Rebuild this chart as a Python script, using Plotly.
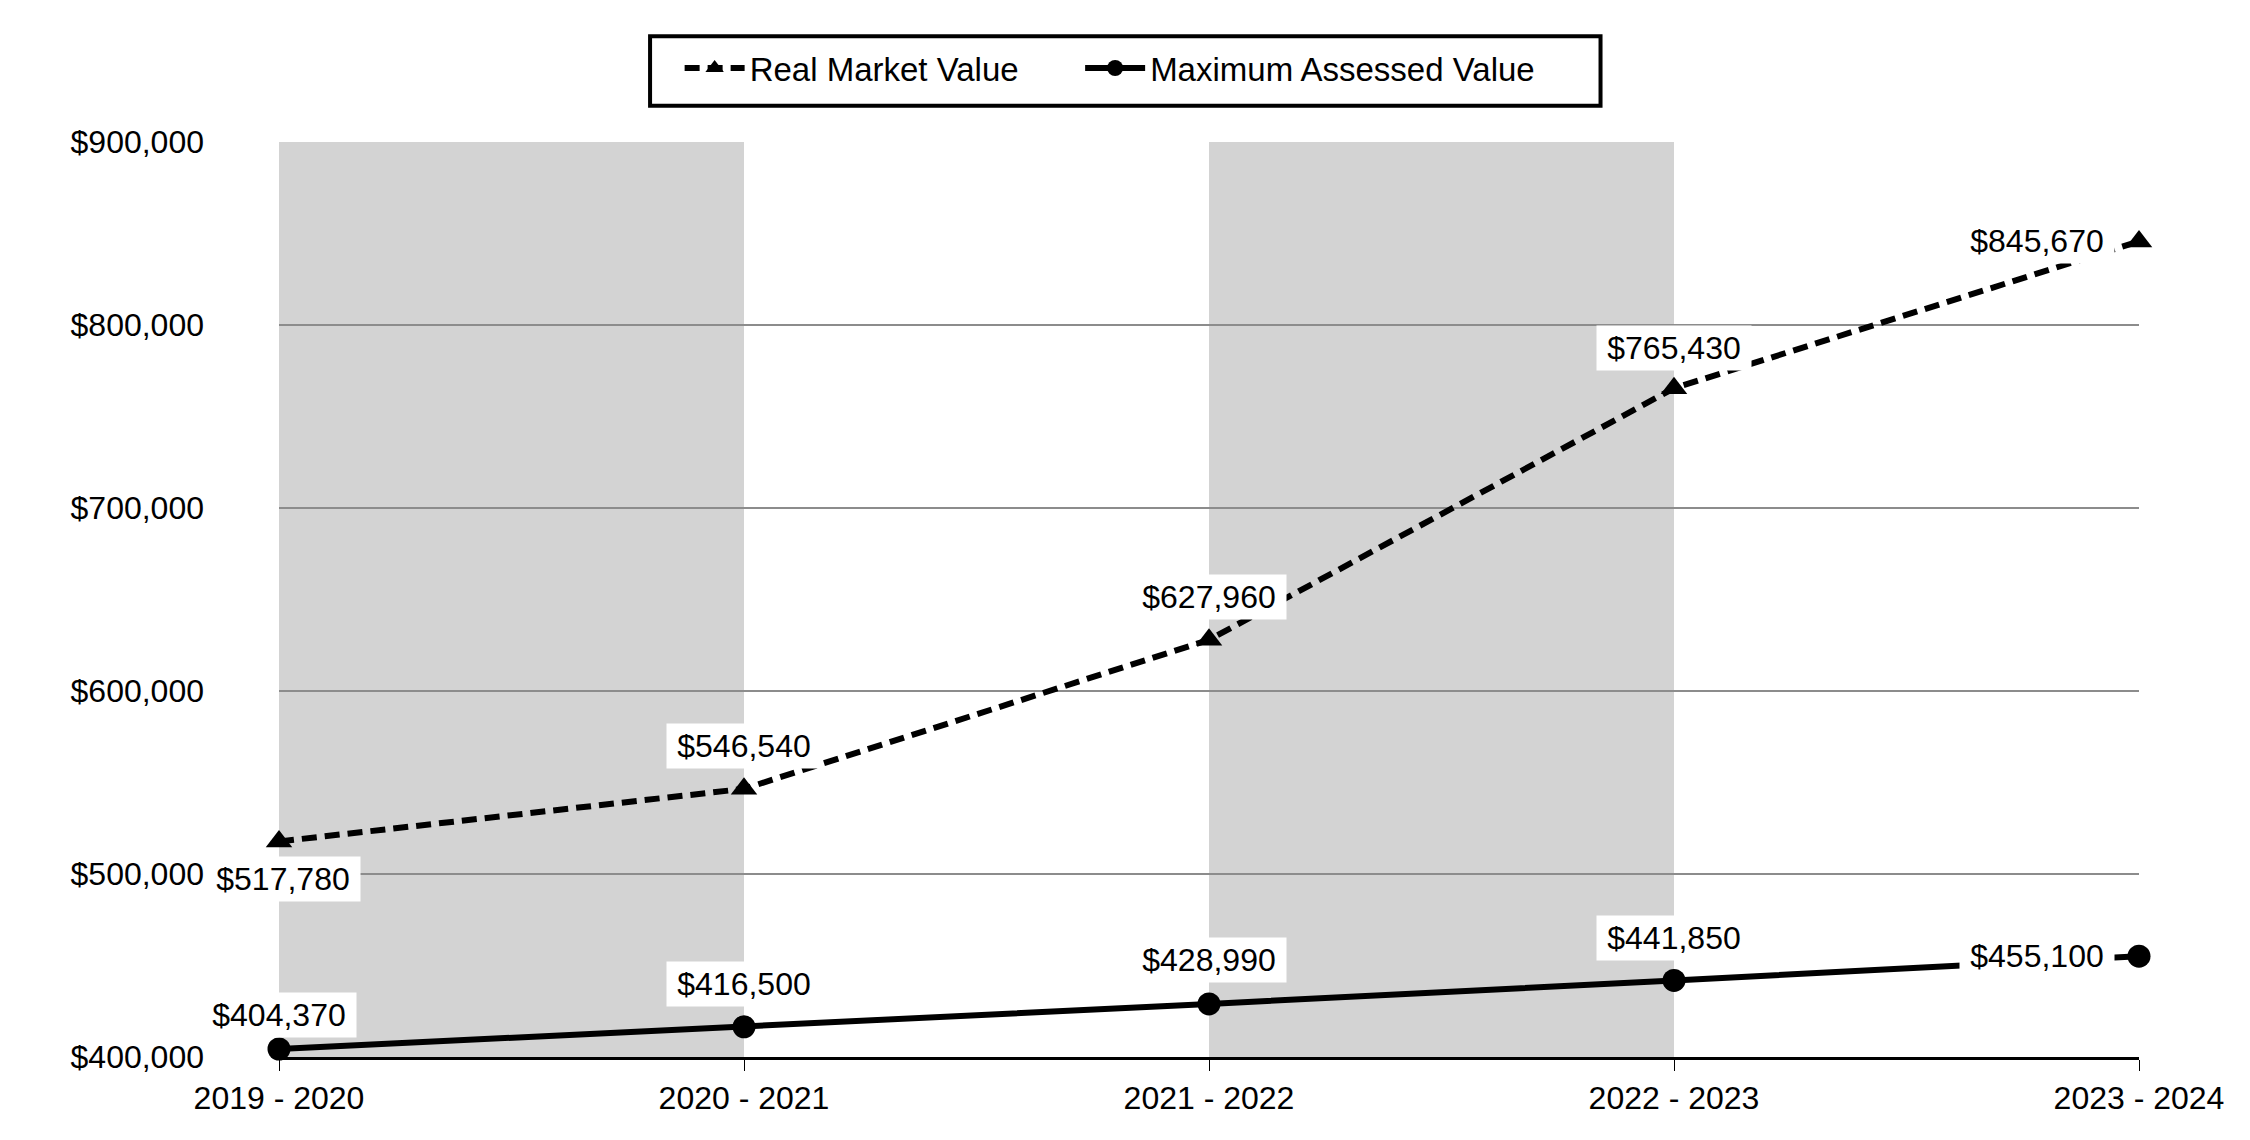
import plotly.graph_objects as go

categories = ["2019 - 2020", "2020 - 2021", "2021 - 2022", "2022 - 2023", "2023 - 2024"]
real_market_value = [517780, 546540, 627960, 765430, 845670]
max_assessed_value = [404370, 416500, 428990, 441850, 455100]
y_ticks = [400000, 500000, 600000, 700000, 800000, 900000]

FONT = "Arial, Liberation Sans, sans-serif"
xs = list(range(len(categories)))

fig = go.Figure()
fig.add_trace(go.Scatter(
    x=xs, y=real_market_value, name="Real Market Value", mode="lines+markers",
    line=dict(color="black", width=6, dash="15px,8px"),
    marker=dict(symbol="triangle-up", size=23, color="black"),
    cliponaxis=False, legend="legend",
))
fig.add_trace(go.Scatter(
    x=xs, y=max_assessed_value, name="Maximum Assessed Value", mode="lines+markers",
    line=dict(color="black", width=6),
    marker=dict(symbol="circle", size=23, color="black"),
    cliponaxis=False, legend="legend2",
))

# shaded alternate bands
for i in range(0, len(categories) - 1, 2):
    fig.add_shape(type="rect", xref="x", yref="paper", x0=xs[i], x1=xs[i + 1], y0=0, y1=1,
                  fillcolor="#d3d3d3", line=dict(width=0), layer="below")

# legend frame
fig.add_shape(type="rect", xref="paper", yref="paper", x0=0.1995, x1=0.7105, y0=1.0395, y1=1.1155,
              line=dict(color="black", width=4), fillcolor="white", layer="above")

# data labels
rmv_offsets = [(4, -38), (0, 43), (0, 43), (0, 40), ("left", 0)]
mav_offsets = [(0, 34), (0, 43), (0, 44), (0, 42), ("left", 0)]

def add_labels(values, offsets):
    for x, v, (dx, dy) in zip(xs, values, offsets):
        common = dict(x=x, y=v, text=f"${v:,}", showarrow=False, yanchor="middle",
                      font=dict(family=FONT, size=32, color="black"),
                      bgcolor="white", borderpad=2, width=150, height=40, align="center")
        if dx == "left":
            fig.add_annotation(xanchor="right", xshift=-24, yshift=0, **common)
        else:
            fig.add_annotation(xanchor="center", xshift=dx, yshift=dy, **common)

add_labels(real_market_value, rmv_offsets)
add_labels(max_assessed_value, mav_offsets)

legend_common = dict(
    orientation="h", xref="container", yref="container", y=0.9473,
    xanchor="left", yanchor="middle",
    borderwidth=0, bgcolor="rgba(0,0,0,0)",
    font=dict(family=FONT, size=33, color="black"),
    itemwidth=60,
)

fig.update_layout(
    width=2250, height=1140,
    margin=dict(l=271, r=119, t=134, b=91),
    paper_bgcolor="white", plot_bgcolor="white",
    font=dict(family=FONT, size=32, color="black"),
    showlegend=True,
    legend=dict(x=0.2985, **legend_common),
    legend2=dict(x=0.4765, **legend_common),
    xaxis=dict(
        range=[0, 4], tickmode="array", tickvals=xs, ticktext=categories,
        showgrid=False, zeroline=False, showline=True, linecolor="black", linewidth=3,
        ticks="outside", ticklen=11, tickwidth=1, tickcolor="black",
        tickfont=dict(family=FONT, size=32, color="black"),
    ),
    yaxis=dict(
        range=[400000, 900000], tickmode="array", tickvals=y_ticks,
        ticktext=[f"${t:,}" for t in y_ticks],
        showgrid=True, gridcolor="#8c8c8c", gridwidth=2, zeroline=False, showline=False,
        ticks="", ticklabelstandoff=74,
        tickfont=dict(family=FONT, size=32, color="black"),
    ),
)

fig.write_html("out.html")
